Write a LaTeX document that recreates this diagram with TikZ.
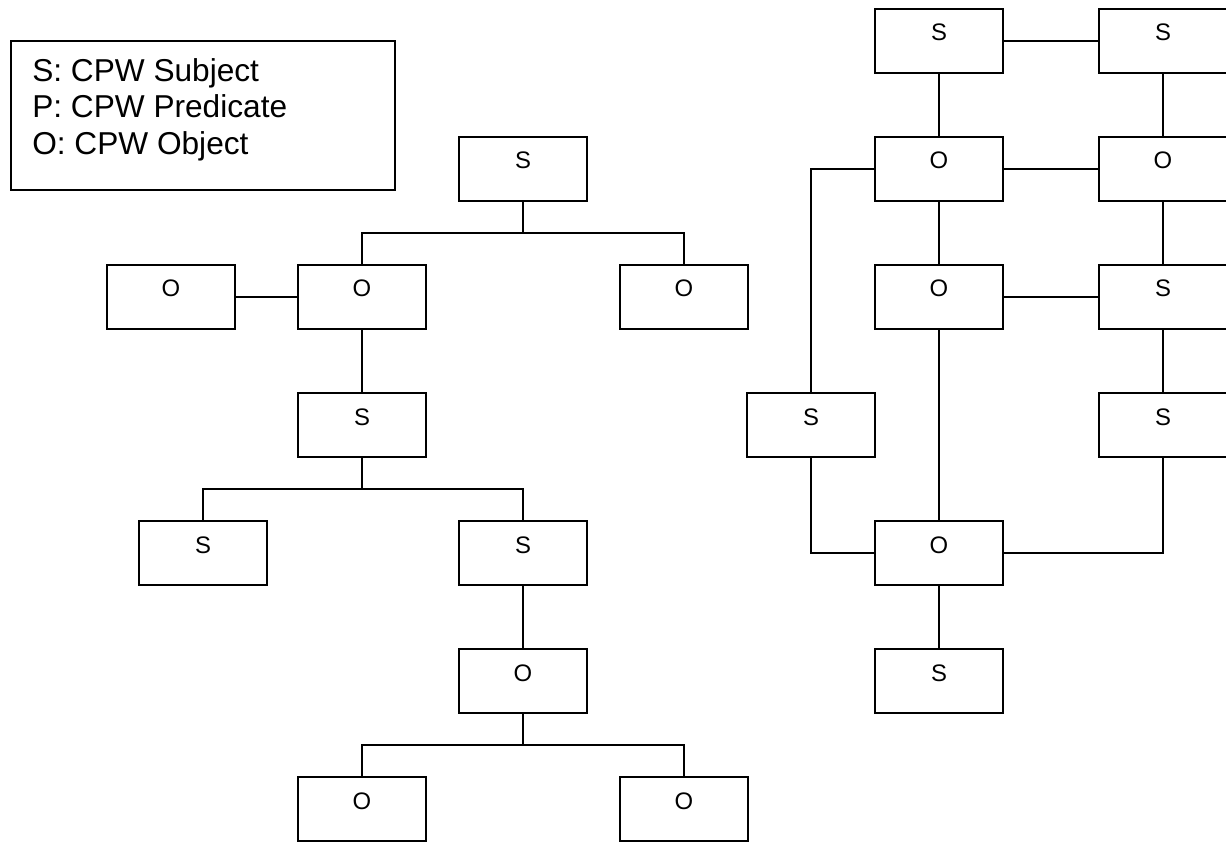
\documentclass[tikz,border=0pt]{standalone}
\usepackage{fontspec}
\setmainfont{Liberation Sans}
\usepackage{tikz}
\tikzstyle{box} = [rectangle, minimum width=3.2cm, minimum height=1.6cm, text centered, draw=black, line width=1.4pt, font=\fontsize{17pt}{20pt}\selectfont, text height=12.5pt, text depth=12.5pt]
\tikzstyle{legendBox} = [rectangle, minimum width=9.6cm, minimum height=3.725cm, draw=black, line width=1.4pt]
\tikzstyle{legendText} = [align=left, inner sep=0pt, font=\fontsize{22.5pt}{26.3pt}\selectfont]
\tikzstyle{link} = [line width=1.4pt]

\begin{document}
\begin{tikzpicture}[node distance=3.2cm]
\useasboundingbox (0,0) rectangle (30.65,-21.05);

\node (legend) [legendBox] at (5.075,-2.8875) {};
\node (legendLabel) [legendText, anchor=north west] at (0.8,-1.445) {S: CPW Subject\\P: CPW Predicate\\O: CPW Object};

% left tree
\node (sTop) [box] at (13.075,-4.225) {S};
\node (oMid) [box, below of=sTop, xshift=-4.025cm] {O};
\node (oRight) [box, below of=sTop, xshift=4.025cm] {O};
\node (oLeft) [box, left of=oMid, xshift=-1.575cm] {O};
\node (sMid) [box, below of=oMid] {S};
\node (sLeft) [box, below of=sMid, xshift=-3.975cm] {S};
\node (sRight) [box, below of=sMid, xshift=4.025cm] {S};
\node (oLow) [box, below of=sRight] {O};
\node (oBotLeft) [box, below of=oLow, xshift=-4.025cm] {O};
\node (oBotRight) [box, below of=oLow, xshift=4.025cm] {O};

\node (topFork) [coordinate, below of=sTop, yshift=1.6cm] {};
\node (midFork) [coordinate, below of=sMid, yshift=1.6cm] {};
\node (lowFork) [coordinate, below of=oLow, yshift=1.6cm] {};

\draw [link] (sTop) -- (topFork);
\draw [link] (topFork) -| (oMid);
\draw [link] (topFork) -| (oRight);
\draw [link] (oLeft) -- (oMid);
\draw [link] (oMid) -- (sMid);
\draw [link] (sMid) -- (midFork);
\draw [link] (midFork) -| (sLeft);
\draw [link] (midFork) -| (sRight);
\draw [link] (sRight) -- (oLow);
\draw [link] (oLow) -- (lowFork);
\draw [link] (lowFork) -| (oBotLeft);
\draw [link] (lowFork) -| (oBotRight);

% right graph
\node (rS1) [box] at (23.475,-1.025) {S};
\node (rS2) [box, right of=rS1, xshift=2.4cm] {S};
\node (rO1) [box, below of=rS1] {O};
\node (rO2) [box, below of=rS2] {O};
\node (rO3) [box, below of=rO1] {O};
\node (rS3) [box, below of=rO2] {S};
\node (rSLeft) [box, below of=rO3, xshift=-3.2cm] {S};
\node (rS4) [box, below of=rS3] {S};
\node (rOBig) [box, below of=rO3, yshift=-3.2cm] {O};
\node (rSBot) [box, below of=rOBig] {S};

\draw [link] (rS1) -- (rS2);
\draw [link] (rS1) -- (rO1);
\draw [link] (rS2) -- (rO2);
\draw [link] (rO1) -- (rO2);
\draw [link] (rO1.west) -| (rSLeft.north);
\draw [link] (rO1) -- (rO3);
\draw [link] (rO2) -- (rS3);
\draw [link] (rO3) -- (rS3);
\draw [link] (rO3) -- (rOBig);
\draw [link] (rS3) -- (rS4);
\draw [link] (rSLeft.south) |- (rOBig.west);
\draw [link] (rS4.south) |- (rOBig.east);
\draw [link] (rOBig) -- (rSBot);
\end{tikzpicture}
\end{document}
